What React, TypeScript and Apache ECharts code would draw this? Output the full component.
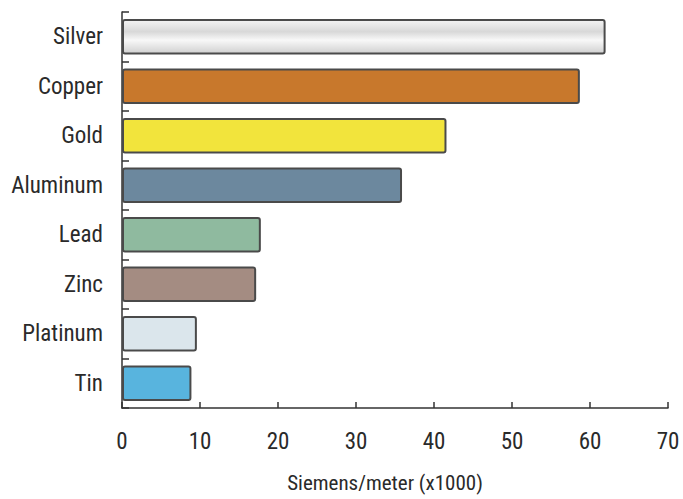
import React, { useEffect, useRef } from "react";
import * as echarts from "echarts";

const categories = ["Silver", "Copper", "Gold", "Aluminum", "Lead", "Zinc", "Platinum", "Tin"];
const values = [62.0, 58.7, 41.6, 35.9, 17.8, 17.2, 9.6, 8.9];
const barColors = ["#ececec", "#c8782c", "#f2e43c", "#6c889e", "#8fba9f", "#a48c82", "#dbe6ec", "#58b4de"];
const xTicks = [0, 10, 20, 30, 40, 50, 60, 70];
const axisName = "Siemens/meter (x1000)";

const FONT = "'Roboto Condensed', 'Liberation Sans Narrow', 'DejaVu Sans Condensed', 'Liberation Sans', sans-serif";

export default function App() {
  const ref = useRef<HTMLDivElement>(null);
  useEffect(() => {
    if (!ref.current) return;
    const chart = echarts.init(ref.current, null, { renderer: "svg" });
    chart.setOption({
      animation: false,
      backgroundColor: "#ffffff",
      grid: { left: 122, right: 15, top: 12, bottom: 91, containLabel: false, outerBoundsMode: "none" },
      xAxis: {
        type: "value",
        min: xTicks[0],
        max: xTicks[xTicks.length - 1],
        interval: 10,
        name: axisName,
        nameLocation: "middle",
        nameGap: 64,
        nameTextStyle: { fontFamily: FONT, fontSize: 21, color: "#2a2a2a", padding: [0, 20, 0, 0] },
        axisLine: { show: true, lineStyle: { color: "#333", width: 1.5 } },
        axisTick: { show: true, inside: true, length: 6, lineStyle: { color: "#333", width: 1.5 } },
        axisLabel: { fontFamily: FONT, fontSize: 23, color: "#2a2a2a", margin: 22 },
        splitLine: { show: false },
      },
      yAxis: {
        type: "category",
        data: categories,
        inverse: true,
        axisLine: { show: true, lineStyle: { color: "#333", width: 1.5 } },
        axisTick: { show: true, inside: true, length: 7, lineStyle: { color: "#333", width: 1.5 } },
        axisLabel: { fontFamily: FONT, fontSize: 23, color: "#2a2a2a", margin: 19 },
      },
      series: [
        {
          type: "bar",
          barWidth: "72%",
          data: values.map((v, i) => ({
            value: v,
            itemStyle: {
              color:
                i === 0
                  ? new echarts.graphic.LinearGradient(0, 0, 0, 1, [
                      { offset: 0, color: "#f4f4f4" },
                      { offset: 0.35, color: "#d8d8d8" },
                      { offset: 0.6, color: "#f8f8f8" },
                      { offset: 1, color: "#d0d0d0" },
                    ])
                  : barColors[i],
              borderColor: "#4a4a4a",
              borderWidth: 2,
              borderRadius: 2,
            },
          })),
        },
      ],
    });
    return () => chart.dispose();
  }, []);
  return <div ref={ref} style={{ width: 683, height: 499, position: "absolute", left: 0, top: 0 }} />;
}
